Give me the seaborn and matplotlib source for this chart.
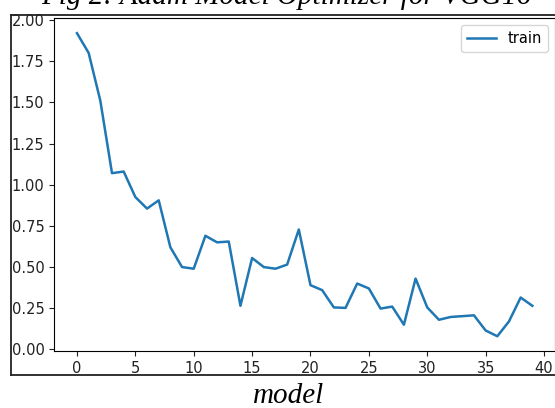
import matplotlib
matplotlib.use("Agg")
import matplotlib.pyplot as plt
import seaborn as sns

# Data
epochs = list(range(40))
train_loss = [1.92, 1.80, 1.51, 1.07, 1.08, 0.925, 0.855, 0.905, 0.62, 0.50,
              0.49, 0.69, 0.65, 0.655, 0.265, 0.555, 0.50, 0.49, 0.515, 0.728,
              0.39, 0.36, 0.255, 0.252, 0.40, 0.37, 0.248, 0.26, 0.15, 0.43,
              0.255, 0.18, 0.197, 0.202, 0.207, 0.115, 0.08, 0.17, 0.315, 0.265]

caption_top = "Fig 2: Adam Model Optimizer for VGG16"
caption_bottom = "model"

W, H = 555, 408
fig = plt.figure(figsize=(W / 100, H / 100), dpi=100)

# axes placed like the cropped embedded figure
ax_left, ax_right = 54.2, 555.1
ax_top, ax_bottom = 18.0, 351.4
ax = fig.add_axes([ax_left / W, 1 - ax_bottom / H,
                   (ax_right - ax_left) / W, (ax_bottom - ax_top) / H])

sns.lineplot(x=epochs, y=train_loss, label="train", ax=ax, linewidth=1.8)
ax.tick_params(labelsize=10.5, colors="#222222")
ax.legend(loc="upper right", fontsize=10.5)

# border of the embedded image in the page
border = dict(color="#222222", linewidth=1.3, transform=fig.transFigure)
fig.add_artist(plt.Line2D([10.5 / W, 10.5 / W], [1 - 14.5 / H, 1 - 375 / H], **border))
fig.add_artist(plt.Line2D([10.5 / W, 1.0], [1 - 14.5 / H, 1 - 14.5 / H], **border))
fig.add_artist(plt.Line2D([10.5 / W, 1.0], [1 - 375 / H, 1 - 375 / H], **border))

# page captions (top one is cut off by the crop)
fig.text(286 / W, 1 - 4.5 / H, caption_top, ha="center", va="baseline",
         family="Liberation Serif", style="italic", fontsize=21)
fig.text(289 / W, 1 - 403 / H, caption_bottom, ha="center", va="baseline",
         family="Liberation Serif", style="italic", fontsize=21)

fig.savefig("out.png", dpi=100)
